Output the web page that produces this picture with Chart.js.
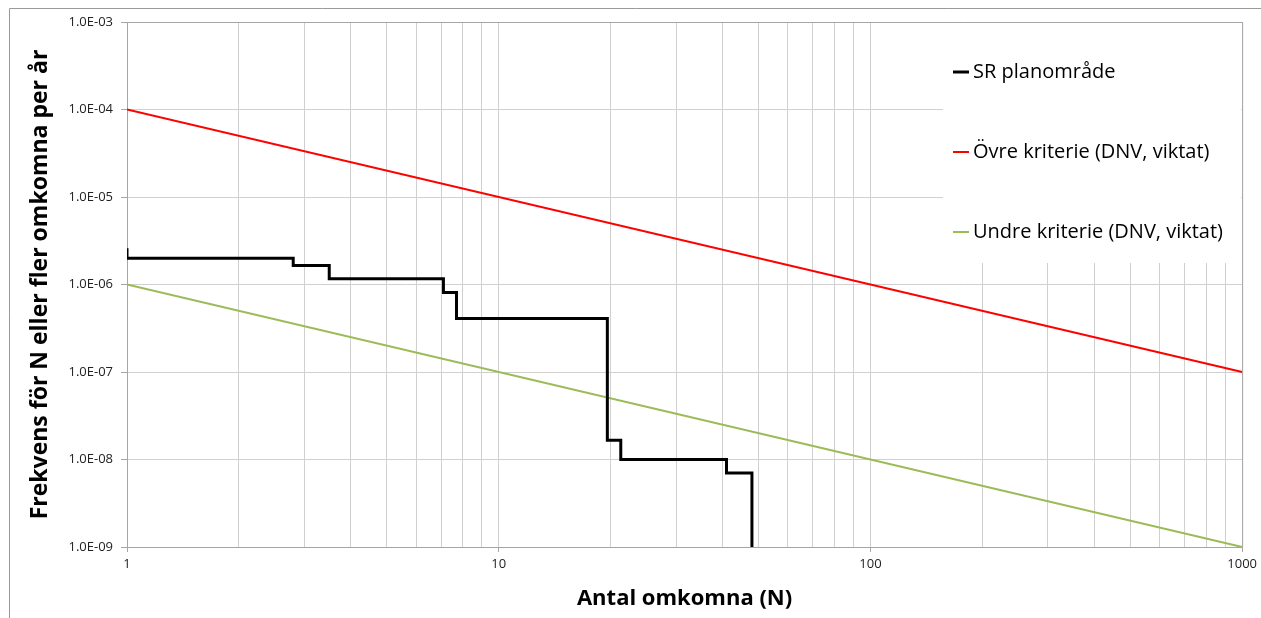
<!DOCTYPE html>
<html lang="sv">
<head>
    <meta charset="UTF-8">
    <title>F/N-kurva</title>
    <script src="https://cdn.jsdelivr.net/npm/chart.js"></script>
    <style>
        html, body { margin: 0; padding: 0; background: #fff; }
        #wrap { width: 1261px; height: 618px; position: relative; }
    </style>
</head>
<body>
    <div id="wrap"><canvas id="fnChart"></canvas></div>

    <script>
        // SR planområde (stegkurva)
        const srN    = [1, 1, 2.8, 3.5, 7.1, 7.7, 19.6, 21.3, 41, 48];
        const srFreq = [2.6e-6, 2.0e-6, 1.65e-6, 1.16e-6, 8.1e-7, 4.1e-7, 1.66e-8, 1.0e-8, 7.0e-9, 1.0e-9];

        // kriterielinjer (DNV, viktat)
        const critN     = [1, 1000];
        const upperFreq = [1e-4, 1e-7];
        const lowerFreq = [1e-6, 1e-9];

        const labels = ['SR planområde', 'Övre kriterie (DNV, viktat)', 'Undre kriterie (DNV, viktat)'];

        const xTicks = [1, 2, 3, 4, 5, 6, 7, 8, 9, 10, 20, 30, 40, 50, 60, 70, 80, 90, 100,
                        200, 300, 400, 500, 600, 700, 800, 900, 1000];
        const yTicks = [1e-9, 1e-8, 1e-7, 1e-6, 1e-5, 1e-4, 1e-3];

        const FONT = "'Open Sans', 'Liberation Sans', sans-serif";

        function toPoints(xs, ys) {
            return xs.map((x, i) => ({ x: x, y: ys[i] }));
        }
        function isDecade(v) {
            const l = Math.log10(v);
            return Math.abs(l - Math.round(l)) < 1e-9;
        }

        // grå ram runt diagrammet
        const frame = {
            id: 'frame',
            beforeDraw(chart) {
                const c = chart.ctx;
                c.save();
                c.fillStyle = '#fff';
                c.fillRect(0, 0, chart.width, chart.height);
                c.strokeStyle = '#9a9a9a';
                c.lineWidth = 1;
                c.beginPath();
                c.moveTo(9.5, chart.height);
                c.lineTo(9.5, 8.5);
                c.lineTo(chart.width, 8.5);
                c.stroke();
                c.restore();
            }
        };

        // vit legendruta ovanpå rutnätet, uppe till höger
        const boxLegend = {
            id: 'boxLegend',
            beforeDatasetsDraw(chart) {
                const c = chart.ctx;
                const a = chart.chartArea;
                c.save();
                c.fillStyle = '#fff';
                c.fillRect(943, a.top + 1, a.right - 943 - 1, 240);
                const rows = [72, 152, 232];
                chart.data.datasets.forEach((ds, i) => {
                    const y = rows[i];
                    c.strokeStyle = ds.borderColor;
                    c.lineWidth = i === 0 ? 3 : 2;
                    c.beginPath();
                    c.moveTo(953, y);
                    c.lineTo(969, y);
                    c.stroke();
                    c.fillStyle = '#000';
                    c.font = '20px ' + FONT;
                    c.textBaseline = 'middle';
                    c.fillText(ds.label, 973, y);
                });
                c.restore();
            }
        };

        new Chart(document.getElementById('fnChart'), {
            type: 'line',
            data: {
                datasets: [
                    {
                        label: labels[0],
                        data: toPoints(srN, srFreq),
                        borderColor: '#000000',
                        borderWidth: 3,
                        stepped: 'before',
                        pointRadius: 0
                    },
                    {
                        label: labels[1],
                        data: toPoints(critN, upperFreq),
                        borderColor: '#ff0000',
                        borderWidth: 2,
                        pointRadius: 0
                    },
                    {
                        label: labels[2],
                        data: toPoints(critN, lowerFreq),
                        borderColor: '#9bbb59',
                        borderWidth: 2,
                        pointRadius: 0
                    }
                ]
            },
            options: {
                responsive: true,
                maintainAspectRatio: false,
                animation: false,
                layout: { padding: { top: 22, right: 16, left: 0, bottom: 0 } },
                plugins: {
                    legend: { display: false },
                    tooltip: { enabled: false }
                },
                scales: {
                    x: {
                        type: 'logarithmic',
                        min: 1,
                        max: 1000,
                        afterBuildTicks(scale) {
                            scale.ticks = xTicks.map(v => ({ value: v, major: isDecade(v) }));
                        },
                        afterFit(scale) { scale.height = 71; },
                        ticks: {
                            autoSkip: false,
                            maxRotation: 0,
                            padding: 4,
                            color: '#222',
                            font: { family: FONT, size: 13 },
                            callback: v => isDecade(v) ? String(v) : ''
                        },
                        grid: {
                            color: '#d0d0d0',
                            tickLength: 5,
                            tickColor: ctx => isDecade(ctx.tick.value) ? '#a6a6a6' : 'rgba(0,0,0,0)'
                        },
                        border: { color: '#a6a6a6' },
                        title: {
                            display: true,
                            text: 'Antal omkomna (N)',
                            color: '#000',
                            font: { family: FONT, size: 22, weight: 'bold' },
                            padding: { top: 0, bottom: 6 }
                        }
                    },
                    y: {
                        type: 'logarithmic',
                        min: 1e-9,
                        max: 1e-3,
                        afterBuildTicks(scale) {
                            scale.ticks = yTicks.map(v => ({ value: v, major: true }));
                        },
                        afterFit(scale) { scale.width = 127; },
                        ticks: {
                            autoSkip: false,
                            padding: 8,
                            color: '#222',
                            font: { family: FONT, size: 13 },
                            callback: v => '1.0E-' + String(-Math.round(Math.log10(v))).padStart(2, '0')
                        },
                        grid: { color: '#d0d0d0', tickLength: 6, tickColor: '#a6a6a6' },
                        border: { color: '#a6a6a6' },
                        title: {
                            display: true,
                            text: 'Frekvens för N eller fler omkomna per år',
                            color: '#000',
                            font: { family: FONT, size: 23, weight: 'bold' },
                            padding: { top: 27, bottom: 0 }
                        }
                    }
                }
            },
            plugins: [frame, boxLegend, {
                id: 'plotBorder',
                afterDraw(chart) {
                    const a = chart.chartArea;
                    const c = chart.ctx;
                    c.save();
                    c.strokeStyle = '#a6a6a6';
                    c.lineWidth = 1;
                    c.beginPath();
                    c.moveTo(a.left, a.top + 0.5);
                    c.lineTo(a.right + 0.5, a.top + 0.5);
                    c.lineTo(a.right + 0.5, a.bottom);
                    c.stroke();
                    c.restore();
                }
            }]
        });
    </script>
</body>
</html>
